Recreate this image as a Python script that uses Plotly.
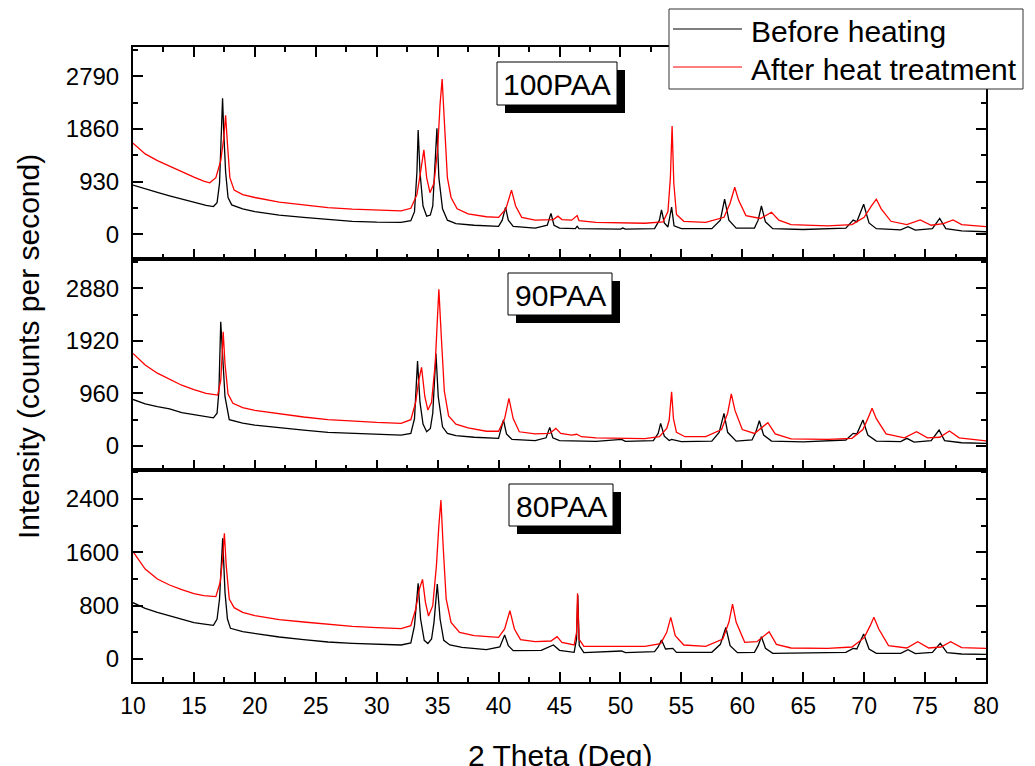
import plotly.graph_objects as go
from plotly.subplots import make_subplots

# XRD scans, 2 theta (deg) vs intensity (counts per second)
# ---- 100PAA ----
x_100_before = [10, 11, 12, 13, 14, 15, 16, 16.6, 16.9, 17.1, 17.25, 17.35, 17.45, 17.6, 17.8, 18.1,
                19, 20, 21, 22, 24, 26, 28, 30, 32, 32.8, 33.1, 33.3, 33.4, 33.55, 33.8, 34.1,
                34.4, 34.6, 34.8, 34.94, 35.1, 35.4, 35.8, 36.5, 38, 40, 40.3, 40.57, 40.8, 41.2,
                43, 44.0, 44.3, 44.55, 45, 46.3, 46.45, 46.6, 50, 50.2, 50.4, 52.8, 53.2, 53.37,
                53.6, 53.9, 54.2, 54.4, 55, 57.5, 58.2, 58.55, 58.9, 59.5, 61, 61.3, 61.57, 61.9,
                62.5, 65, 68.5, 69.1, 69.4, 69.96, 70.4, 71, 73, 73.6, 74.2, 75.6, 76.2, 76.7, 78, 80]
y_100_before = [870, 800, 740, 680, 620, 560, 510, 490, 560, 900, 1700, 2400, 1800, 1100, 650, 520,
                450, 400, 370, 340, 300, 260, 230, 215, 210, 240, 400, 1100, 1840, 1100, 500, 320,
                340, 500, 1200, 1870, 1000, 450, 250, 190, 160, 140, 250, 475, 250, 140,
                110, 160, 370, 160, 110, 100, 140, 100, 90, 110, 90, 100, 250, 430,
                200, 130, 480, 150, 100, 100, 250, 620, 250, 110, 110, 250, 500, 220,
                100, 85, 110, 250, 220, 530, 200, 100, 80, 135, 75, 100, 280, 100, 60, 45]
x_100_after = [10, 11, 12, 13, 14, 15, 15.8, 16.3, 16.8, 17.2, 17.45, 17.6, 17.75, 17.95, 18.3, 19,
               20, 21, 22, 24, 26, 28, 30, 32, 32.8, 33.3, 33.6, 33.87, 34.1, 34.37, 34.7, 35.0,
               35.2, 35.37, 35.55, 35.8, 36.1, 36.6, 37.5, 39, 40, 40.6, 41.06, 41.4, 41.9, 43,
               44.5, 44.87, 45.2, 46, 46.45, 46.6, 48, 50, 52, 53.5, 53.9, 54.1, 54.24, 54.38,
               54.6, 55.2, 57, 58.5, 59.0, 59.38, 59.7, 60.3, 61.5, 62.4, 63, 64, 67, 69, 70,
               70.6, 71.0, 71.4, 72.2, 73.5, 74.6, 75.5, 76.5, 77.3, 78, 80]
y_100_after = [1610, 1420, 1300, 1200, 1100, 1010, 940, 910, 1000, 1300, 1700, 2100, 1600, 1000, 780, 700,
               650, 610, 570, 520, 470, 445, 430, 415, 460, 700, 1100, 1490, 1000, 735, 900, 1500,
               2300, 2740, 2000, 1000, 650, 450, 360, 310, 300, 450, 780, 500, 300, 250,
               260, 320, 260, 250, 330, 240, 210, 200, 195, 220, 400, 1000, 1910, 900,
               350, 230, 210, 300, 550, 830, 600, 330, 280, 390, 250, 170, 150, 170, 300,
               500, 620, 450, 230, 170, 255, 160, 190, 255, 170, 135]

# ---- 90PAA ----
x_90_before = [10, 11, 12, 13, 14, 15, 16, 16.6, 16.9, 17.05, 17.2, 17.35, 17.55, 17.9, 19, 20,
               21, 22, 24, 26, 28, 30, 32, 32.8, 33.1, 33.35, 33.55, 33.8, 34.1, 34.4, 34.6, 34.86,
               35.05, 35.4, 35.8, 36.5, 38, 40, 40.15, 40.4, 40.65, 41.1, 43, 43.9, 44.2, 44.45,
               45, 48, 50.1, 50.4, 52.7, 53.1, 53.3, 53.6, 54, 54.2, 55, 57.5, 58.1, 58.5, 58.8,
               59.5, 60.8, 61.1, 61.4, 61.75, 62.4, 65, 68.5, 69.1, 69.4, 69.9, 70.3, 71, 73,
               73.5, 74.1, 75.5, 76.15, 76.6, 78, 80]
y_90_before = [850, 770, 720, 680, 610, 570, 530, 515, 600, 1000, 2270, 1600, 900, 480, 420, 380,
               355, 330, 290, 250, 230, 215, 200, 230, 500, 1550, 800, 400, 262, 320, 600, 1690,
               900, 350, 230, 190, 160, 140, 250, 475, 220, 120, 100, 150, 340, 150,
               100, 85, 122, 85, 100, 230, 414, 180, 100, 120, 80, 90, 250, 596, 250,
               90, 110, 250, 462, 200, 90, 75, 110, 231, 220, 475, 200, 90, 80,
               140, 70, 100, 292, 100, 60, 49]
x_90_after = [10, 11, 12, 13, 14, 15, 16, 16.95, 17.2, 17.3, 17.4, 17.55, 17.8, 18.2, 19, 20,
              21, 22, 24, 26, 28, 30, 32, 32.8, 33.2, 33.45, 33.68, 33.95, 34.2, 34.5, 34.8, 35.0,
              35.1, 35.3, 35.55, 35.9, 36.5, 37.5, 39, 40, 40.5, 40.85, 41.2, 41.7, 43, 44.2,
              44.7, 45.1, 46, 46.4, 46.8, 48, 50, 52, 53.2, 53.8, 54.0, 54.2, 54.35, 54.6, 55.3,
              57, 58.3, 58.8, 59.1, 59.4, 60.0, 61.0, 62.1, 62.7, 64, 67, 69, 69.9, 70.3, 70.65,
              71.0, 71.8, 73.3, 74.3, 75.2, 76.2, 77.0, 77.8, 80]
y_90_after = [1690, 1480, 1330, 1220, 1110, 1030, 960, 930, 1200, 1600, 2087, 1500, 950, 780, 700, 650,
              620, 580, 530, 480, 450, 430, 415, 480, 800, 1200, 1437, 900, 657, 800, 1500, 2400,
              2860, 2000, 1000, 550, 400, 330, 270, 270, 500, 870, 500, 260, 220, 230,
              322, 230, 200, 215, 170, 150, 140, 135, 170, 320, 470, 990, 500, 250, 170,
              170, 300, 600, 950, 650, 300, 230, 426, 220, 130, 120, 140, 300, 500, 688,
              500, 220, 150, 262, 150, 160, 274, 150, 92]

# ---- 80PAA ----
x_80_before = [10, 11, 12, 13, 14, 15, 16, 16.6, 16.9, 17.1, 17.36, 17.55, 17.75, 18.0, 19, 20,
               21, 22, 24, 26, 28, 30, 32, 32.8, 33.1, 33.4, 33.6, 33.9, 34.2, 34.5, 34.7, 34.97,
               35.2, 35.5, 36, 37, 39, 40.1, 40.5, 40.8, 41.2, 43.5, 44.5, 45, 46.2, 46.4, 46.5,
               46.62, 47, 50.1, 50.4, 52.8, 53.1, 53.37, 53.7, 54.3, 54.6, 57.5, 58.2, 58.65, 59.0,
               59.6, 61, 61.3, 61.57, 61.9, 62.5, 68.5, 69.1, 69.4, 69.96, 70.4, 71, 73, 73.6,
               74.2, 75.6, 76.25, 76.8, 78, 80]
y_80_before = [845, 760, 700, 650, 590, 545, 520, 505, 600, 900, 1810, 1000, 600, 460, 410, 380,
               360, 330, 290, 255, 235, 220, 210, 240, 500, 1135, 600, 280, 232, 300, 550, 1125,
               600, 280, 210, 175, 140, 180, 360, 200, 125, 130, 210, 130, 100, 300, 960,
               200, 95, 120, 95, 110, 180, 285, 150, 160, 100, 100, 220, 475, 200,
               95, 100, 200, 335, 160, 85, 100, 160, 150, 375, 150, 85, 85, 140,
               80, 100, 235, 95, 75, 70]
x_80_after = [10, 11, 12, 13, 14, 15, 15.8, 16.8, 17.15, 17.35, 17.5, 17.65, 17.9, 18.3, 19, 20,
              21, 22, 24, 26, 28, 30, 32, 32.8, 33.2, 33.5, 33.76, 34.0, 34.25, 34.6, 34.9, 35.1,
              35.27, 35.45, 35.7, 36.1, 36.8, 38, 40, 40.5, 40.93, 41.3, 41.8, 43, 44.3, 44.8,
              45.2, 46.2, 46.4, 46.48, 46.6, 47, 50, 52, 53.3, 53.8, 54.13, 54.5, 55.2, 57, 58.4,
              58.9, 59.2, 59.5, 60.2, 61.2, 62.2, 62.8, 64, 67, 69, 70.0, 70.5, 70.8, 71.2, 72,
              73.5, 74.4, 75.3, 76.3, 77.1, 78, 80]
y_80_after = [1610, 1350, 1200, 1110, 1040, 980, 950, 935, 1150, 1500, 1885, 1400, 900, 770, 700, 650,
              620, 590, 555, 520, 490, 470, 455, 500, 750, 1050, 1195, 850, 645, 800, 1400, 2000,
              2385, 1700, 900, 550, 400, 350, 325, 450, 725, 450, 290, 260, 270, 336,
              250, 210, 400, 985, 300, 190, 185, 190, 230, 400, 625, 350, 210, 190, 300,
              550, 825, 550, 250, 260, 410, 220, 165, 160, 180, 320, 500, 625, 450, 200,
              165, 260, 165, 180, 260, 170, 160]

series_names = ["Before heating", "After heat treatment"]
panel_labels = ["100PAA", "90PAA", "80PAA"]
y_ranges = [[-430, 3307], [-444, 3421], [-345, 2830]]
y_dticks = [930, 960, 800]

FONT = "Liberation Sans, Arial, sans-serif"
W, H = 1035, 766
L, R, T, B = 133, 49, 47, 84
PW, PH = W - L - R, H - T - B


def fx(p):
    return (p - L) / PW


def fy(p):
    return (H - B - p) / PH


fig = make_subplots(rows=3, cols=1, shared_xaxes=True, vertical_spacing=0)

panels = [(x_100_before, y_100_before, x_100_after, y_100_after),
          (x_90_before, y_90_before, x_90_after, y_90_after),
          (x_80_before, y_80_before, x_80_after, y_80_after)]
for i, (xb, yb, xa, ya) in enumerate(panels):
    fig.add_trace(go.Scatter(x=xb, y=yb, mode="lines", name=series_names[0],
                             line=dict(color="black", width=1.3), showlegend=False), row=i + 1, col=1)
    fig.add_trace(go.Scatter(x=xa, y=ya, mode="lines", name=series_names[1],
                             line=dict(color="red", width=1.3), showlegend=False), row=i + 1, col=1)

fig.update_xaxes(range=[10, 80], tick0=10, dtick=5, ticks="inside", ticklen=10, tickwidth=2,
                 tickcolor="black", showline=True, linewidth=2, linecolor="black", mirror=True,
                 showgrid=False, zeroline=False, ticklabelstandoff=2,
                 minor=dict(ticks="inside", ticklen=5, tickwidth=2, tickcolor="black", dtick=2.5),
                 tickfont=dict(family=FONT, size=23, color="black"))
fig.update_xaxes(mirror="ticks", row=1, col=1)

for i in range(3):
    fig.update_yaxes(range=y_ranges[i], tick0=0, dtick=y_dticks[i], row=i + 1, col=1,
                     minor=dict(ticks="inside", ticklen=5, tickwidth=2, tickcolor="black",
                                dtick=y_dticks[i] / 2, tick0=0))
fig.update_yaxes(ticks="inside", ticklen=10, tickwidth=2, tickcolor="black", showline=True,
                 linewidth=2, linecolor="black", mirror="ticks", showgrid=False, zeroline=False,
                 ticklabelstandoff=7, tickfont=dict(family=FONT, size=24, color="black"))

shapes = []
annotations = []

# sample-name boxes with drop shadow (pixel boxes: left, top, right, bottom)
label_boxes = [(497, 62, 617, 105), (508, 273, 612, 315), (509, 484, 613, 526)]
for lab, (x0, y0, x1, y1) in zip(panel_labels, label_boxes):
    shapes.append(dict(type="rect", xref="paper", yref="paper", layer="above",
                       x0=fx(x0 + 8), x1=fx(x1 + 8), y0=fy(y0 + 8), y1=fy(y1 + 8),
                       fillcolor="black", line=dict(width=0)))
    shapes.append(dict(type="rect", xref="paper", yref="paper", layer="above",
                       x0=fx(x0), x1=fx(x1), y0=fy(y0), y1=fy(y1),
                       fillcolor="white", line=dict(color="black", width=1)))
    annotations.append(dict(text=lab, xref="paper", yref="paper", x=fx((x0 + x1) / 2),
                            y=fy((y0 + y1) / 2 + 1), showarrow=False, xanchor="center",
                            yanchor="middle", font=dict(family=FONT, size=30, color="black")))

# legend frame drawn by hand
shapes.append(dict(type="rect", xref="paper", yref="paper", layer="above",
                   x0=fx(669), x1=fx(1023), y0=fy(89), y1=fy(9),
                   fillcolor="white", line=dict(color="#333333", width=1)))
for name, color, ly in zip(series_names, ["black", "red"], [29, 67]):
    shapes.append(dict(type="line", xref="paper", yref="paper", layer="above",
                       x0=fx(673), x1=fx(742), y0=fy(ly), y1=fy(ly),
                       line=dict(color=color, width=1.2)))
    annotations.append(dict(text=name, xref="paper", yref="paper", x=fx(749), y=fy(ly + 2),
                            showarrow=False, xanchor="left", yanchor="middle",
                            font=dict(family=FONT, size=30, color="black")))

# axis titles
annotations.append(dict(text="Intensity (counts per second)", xref="paper", yref="paper",
                        x=fx(28), y=fy(347), textangle=-90, showarrow=False,
                        xanchor="center", yanchor="middle",
                        font=dict(family=FONT, size=30, color="black")))
annotations.append(dict(text="2 Theta (Deg)", xref="paper", yref="paper",
                        x=fx(560), y=fy(755), showarrow=False,
                        xanchor="center", yanchor="middle",
                        font=dict(family=FONT, size=30, color="black")))

fig.update_layout(width=W, height=H, margin=dict(l=L, r=R, t=T, b=B),
                  paper_bgcolor="white", plot_bgcolor="white", showlegend=False,
                  shapes=shapes, annotations=annotations)

fig.write_html("out.html", config={"displayModeBar": False},
               post_script="document.body.style.margin='0px';")
